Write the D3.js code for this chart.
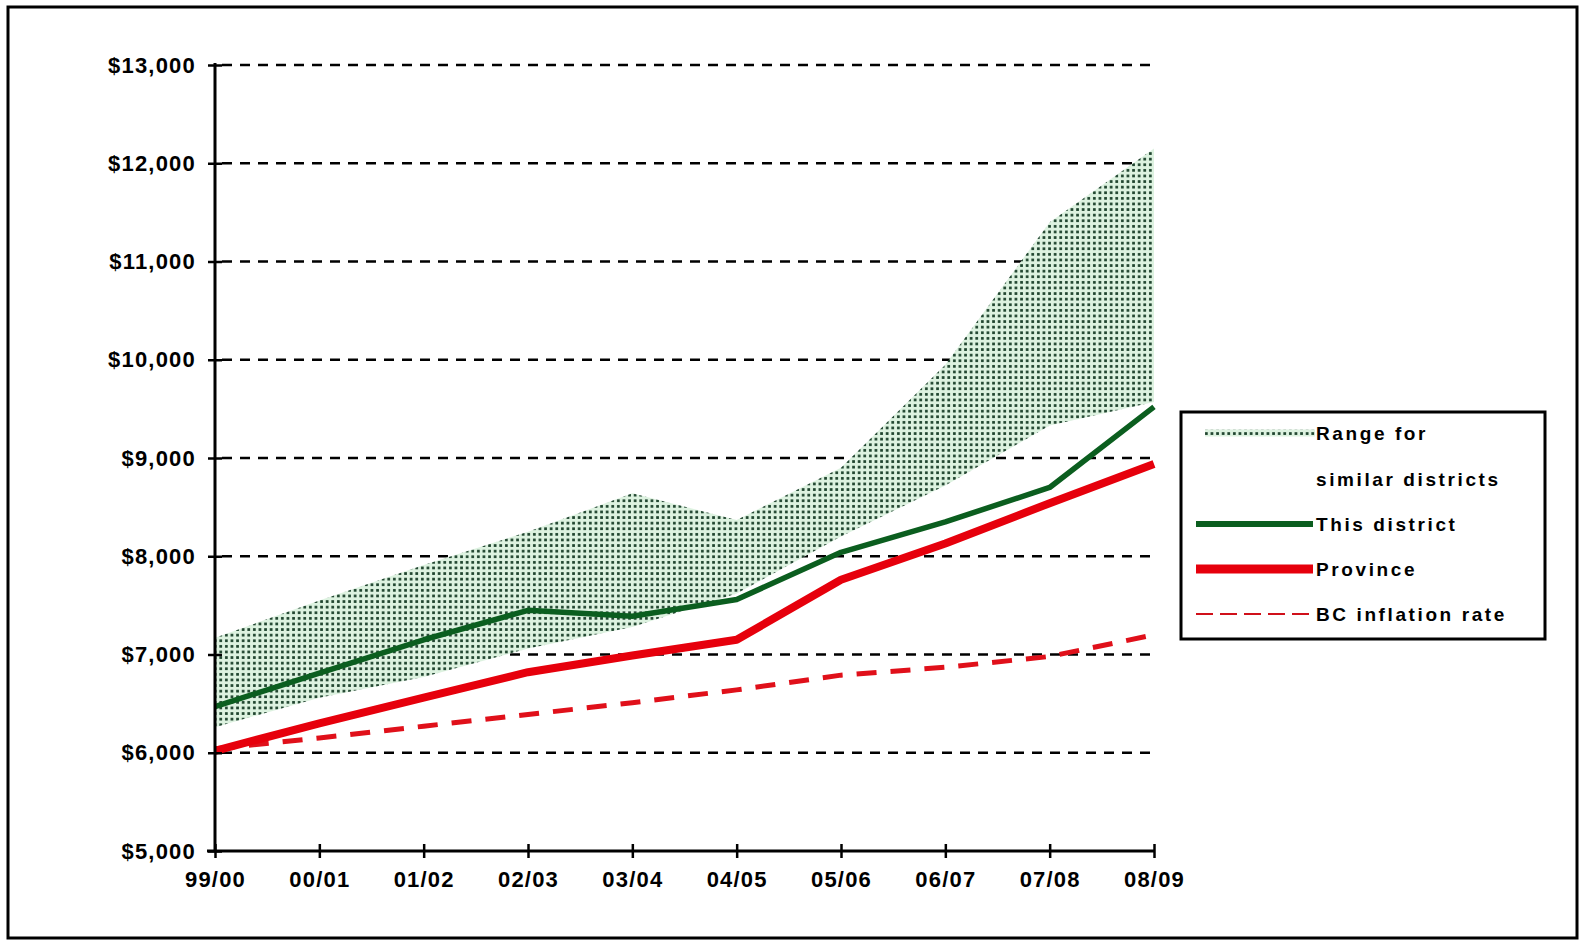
<!DOCTYPE html>
<html>
<head>
<meta charset="utf-8">
<script src="https://d3js.org/d3.v7.min.js"></script>
<style>
  body { margin: 0; background: #fff; }
  text { font-family: "Liberation Sans", Arial, sans-serif; font-weight: bold; fill: #000; }
</style>
</head>
<body>
<svg width="1579" height="940"></svg>
<script>
// chart data
var categories = ["99/00", "00/01", "01/02", "02/03", "03/04", "04/05", "05/06", "06/07", "07/08", "08/09"];
var rangeHigh = [7170, 7550, 7910, 8250, 8640, 8370, 8900, 9950, 11400, 12150];
var rangeLow = [6260, 6560, 6770, 7060, 7280, 7620, 8200, 8720, 9330, 9570];
var thisDistrict = [6470, 6810, 7150, 7450, 7390, 7560, 8040, 8350, 8700, 9520];
var province = [6020, 6300, 6560, 6820, 6990, 7150, 7760, 8130, 8540, 8940];
var inflation = [6040, 6150, 6270, 6390, 6510, 6640, 6790, 6870, 6980, 7200];
var yTicks = [5000, 6000, 7000, 8000, 9000, 10000, 11000, 12000, 13000];
var legendLabels = ["Range for", "similar districts", "This district", "Province", "BC inflation rate"];

var svg = d3.select("svg");

// outer frame
svg.append("rect")
  .attr("x", 8).attr("y", 7).attr("width", 1569).attr("height", 931)
  .attr("fill", "#fff").attr("stroke", "#000").attr("stroke-width", 3);

// dotted fill for the range band
var defs = svg.append("defs");
var pat = defs.append("pattern")
  .attr("id", "dots").attr("patternUnits", "userSpaceOnUse")
  .attr("width", 5.6).attr("height", 5.6);
pat.append("rect").attr("width", 5.6).attr("height", 5.6).attr("fill", "#ddf2e0");
pat.append("rect").attr("x", 1).attr("y", 1).attr("width", 2.7).attr("height", 2.7).attr("fill", "#1e432d");

var x = d3.scalePoint().domain(categories).range([215, 1154]);
var y = d3.scaleLinear().domain([5000, 13000]).range([851, 65]);

// gridlines
svg.append("g").selectAll("line")
  .data(yTicks.filter(function (d) { return d > 5000; }))
  .enter().append("line")
  .attr("x1", 222).attr("x2", 1150)
  .attr("y1", function (d) { return y(d); })
  .attr("y2", function (d) { return y(d); })
  .attr("stroke", "#000").attr("stroke-width", 2.5)
  .attr("stroke-dasharray", "10,8");

// range band
var area = d3.area()
  .x(function (d, i) { return x(categories[i]); })
  .y0(function (d, i) { return y(rangeLow[i]); })
  .y1(function (d) { return y(d); });
svg.append("path").datum(rangeHigh)
  .attr("d", area).attr("fill", "url(#dots)");

function lineOf(vals) {
  return d3.line()
    .x(function (d, i) { return x(categories[i]); })
    .y(function (d) { return y(d); })(vals);
}

// lines
svg.append("path").attr("d", lineOf(inflation))
  .attr("fill", "none").attr("stroke", "#e0101a").attr("stroke-width", 5)
  .attr("stroke-dasharray", "20,14");
svg.append("path").attr("d", lineOf(province))
  .attr("fill", "none").attr("stroke", "#e6000c").attr("stroke-width", 8)
  .attr("stroke-linejoin", "round");
svg.append("path").attr("d", lineOf(thisDistrict))
  .attr("fill", "none").attr("stroke", "#0b5e1f").attr("stroke-width", 5.5)
  .attr("stroke-linejoin", "round");

// axes
var yAxis = d3.axisLeft(y).tickValues(yTicks).tickSize(7)
  .tickFormat(function (d) { return "$" + d3.format(",")(d); });
var gy = svg.append("g").attr("transform", "translate(215,0)").call(yAxis);
gy.select(".domain").remove();
gy.selectAll(".tick line").attr("x1", -7).attr("x2", 7).attr("stroke", "#000").attr("stroke-width", 2.5);
gy.selectAll(".tick text").attr("x", -19).style("font-size", "22px").style("letter-spacing", "1.2px")
  .style("font-family", "Liberation Sans, Arial, sans-serif").style("font-weight", "bold");
svg.append("line").attr("x1", 215).attr("x2", 215).attr("y1", 63).attr("y2", 852)
  .attr("stroke", "#000").attr("stroke-width", 3);

var xAxis = d3.axisBottom(x).tickSize(7);
var gx = svg.append("g").attr("transform", "translate(0,851)").call(xAxis);
gx.select(".domain").remove();
gx.selectAll(".tick line").attr("y1", -7).attr("y2", 7).attr("stroke", "#000").attr("stroke-width", 2.5);
gx.selectAll(".tick text").attr("y", 20).style("font-size", "22px").style("letter-spacing", "1.2px")
  .style("font-family", "Liberation Sans, Arial, sans-serif").style("font-weight", "bold");
svg.append("line").attr("x1", 207).attr("x2", 1155).attr("y1", 851).attr("y2", 851)
  .attr("stroke", "#000").attr("stroke-width", 3);

// legend
var lg = svg.append("g");
lg.append("rect").attr("x", 1181).attr("y", 412).attr("width", 364).attr("height", 227)
  .attr("fill", "#fff").attr("stroke", "#000").attr("stroke-width", 3);
var rowY = [433, 479, 524, 569, 614];
lg.selectAll("text").data(legendLabels).enter().append("text")
  .attr("x", 1316).attr("y", function (d, i) { return rowY[i]; })
  .attr("dy", "0.35em")
  .style("font-size", "19px").style("letter-spacing", "2.6px")
  .text(function (d) { return d; });
lg.append("rect").attr("x", 1205).attr("y", rowY[0] - 3.5).attr("width", 110).attr("height", 7)
  .attr("fill", "url(#dots)");
lg.append("line").attr("x1", 1196).attr("x2", 1313).attr("y1", rowY[2]).attr("y2", rowY[2])
  .attr("stroke", "#0b5e1f").attr("stroke-width", 6);
lg.append("line").attr("x1", 1196).attr("x2", 1313).attr("y1", rowY[3]).attr("y2", rowY[3])
  .attr("stroke", "#e6000c").attr("stroke-width", 9);
lg.append("line").attr("x1", 1196).attr("x2", 1313).attr("y1", rowY[4]).attr("y2", rowY[4])
  .attr("stroke", "#d0101a").attr("stroke-width", 2).attr("stroke-dasharray", "17,7");
</script>
</body>
</html>
